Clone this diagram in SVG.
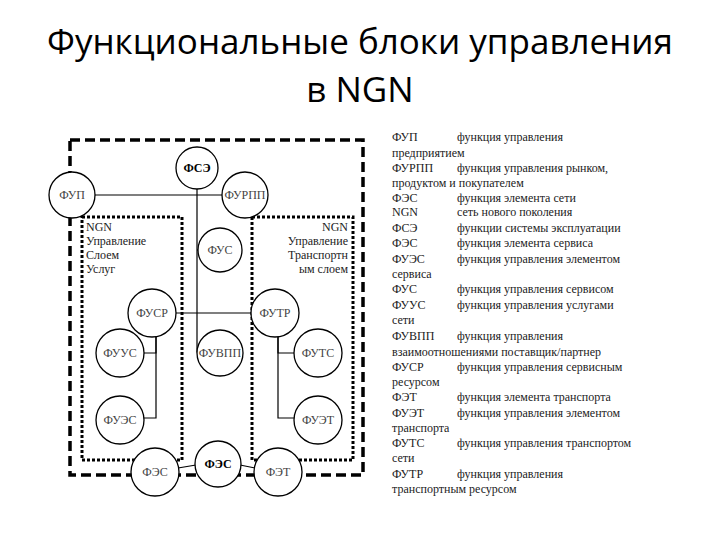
<svg xmlns="http://www.w3.org/2000/svg" width="720" height="540" viewBox="0 0 720 540">
<style>
.t{font-family:"Open Sans","Liberation Sans",sans-serif;font-size:35px;fill:#000;text-anchor:middle}
.n circle{fill:#fff;stroke:#000;stroke-width:1.3}
.n text{font-family:"Liberation Serif",serif;font-size:12px;text-anchor:middle;fill:#444}
.b text{font-weight:bold;fill:#000}
.l{font-family:"Liberation Serif",serif;font-size:12px;fill:#222}
.c line,.c polyline{stroke:#000;stroke-width:1.2;fill:none}
.lab{font-family:"Liberation Serif",serif;font-size:12px;fill:#222}
</style>
<rect width="720" height="540" fill="#fff"/>
<text class="t" x="360" y="54">Функциональные блоки управления</text>
<text class="t" x="360" y="102">в NGN</text>
<rect x="70" y="140" width="293" height="335" fill="none" stroke="#000" stroke-width="3.5" stroke-dasharray="10,5"/>
<rect x="82" y="217" width="100" height="243" fill="none" stroke="#000" stroke-width="3" stroke-dasharray="3,2"/>
<rect x="252" y="217" width="101" height="243" fill="none" stroke="#000" stroke-width="3" stroke-dasharray="3,2"/>
<text class="lab" x="86" y="231">NGN</text>
<text class="lab" x="86" y="245">Управление</text>
<text class="lab" x="86" y="259">Слоем</text>
<text class="lab" x="86" y="273">Услуг</text>
<text class="lab" x="348" y="231" text-anchor="end">NGN</text>
<text class="lab" x="348" y="245" text-anchor="end">Управление</text>
<text class="lab" x="348" y="259" text-anchor="end">Транспортн</text>
<text class="lab" x="348" y="273" text-anchor="end">ым слоем</text>
<g class="c" id="connectors">
<line x1="94" y1="195" x2="223" y2="195"/>
<polyline points="197,188 197,352 203,352"/>
<line x1="197" y1="250" x2="200" y2="250"/>
<line x1="176" y1="313" x2="252" y2="313"/>
<polyline points="143,353 156,353 156,336"/>
<polyline points="156,336 156,418 143,418"/>
<polyline points="295,353 278,353 278,336"/>
<polyline points="278,336 278,418 295,418"/>
<line x1="178" y1="468" x2="196" y2="465"/>
<line x1="240" y1="465" x2="255" y2="468"/>
</g>
<g id="n-fse" class="n b"><circle cx="197" cy="168" r="21"/><text x="197" y="172">ФСЭ</text></g>
<g id="n-fup" class="n"><circle cx="72" cy="195" r="23"/><text x="72" y="199">ФУП</text></g>
<g id="n-furpp" class="n"><circle cx="245" cy="195" r="23"/><text x="245" y="199">ФУРПП</text></g>
<g id="n-fus" class="n"><circle cx="220" cy="250" r="22"/><text x="220" y="254">ФУС</text></g>
<g id="n-fusr" class="n"><circle cx="152" cy="313" r="24"/><text x="152" y="317">ФУСР</text></g>
<g id="n-futr" class="n"><circle cx="275" cy="313" r="24"/><text x="275" y="317">ФУТР</text></g>
<g id="n-fuus" class="n"><circle cx="120" cy="353" r="24"/><text x="120" y="357">ФУУС</text></g>
<g id="n-fuvpp" class="n"><circle cx="220" cy="353" r="23"/><text x="220" y="357">ФУВПП</text></g>
<g id="n-futs" class="n"><circle cx="318" cy="353" r="24"/><text x="318" y="357">ФУТС</text></g>
<g id="n-fues" class="n"><circle cx="120" cy="420" r="24"/><text x="120" y="424">ФУЭС</text></g>
<g id="n-fuet" class="n"><circle cx="318" cy="420" r="24"/><text x="318" y="424">ФУЭТ</text></g>
<g id="n-fes" class="n"><circle cx="155" cy="472" r="24"/><text x="155" y="476">ФЭС</text></g>
<g id="n-fes2" class="n b"><circle cx="218" cy="464" r="23"/><text x="218" y="468">ФЭС</text></g>
<g id="n-fet" class="n"><circle cx="278" cy="472" r="24"/><text x="278" y="476">ФЭТ</text></g>
<g id="legend" class="l">
<text x="392" y="141">ФУП</text><text x="457" y="141">функция управления</text>
<text x="392" y="157">предприятием</text>
<text x="392" y="172">ФУРПП</text><text x="457" y="172">функция управления рынком,</text>
<text x="392" y="187">продуктом и покупателем</text>
<text x="392" y="202">ФЭС</text><text x="457" y="202">функция элемента сети</text>
<text x="392" y="216">NGN</text><text x="457" y="216">сеть нового поколения</text>
<text x="392" y="232">ФСЭ</text><text x="457" y="232">функции системы эксплуатации</text>
<text x="392" y="247">ФЭС</text><text x="457" y="247">функция элемента сервиса</text>
<text x="392" y="263">ФУЭС</text><text x="457" y="263">функция управления элементом</text>
<text x="392" y="278">сервиса</text>
<text x="392" y="293">ФУС</text><text x="457" y="293">функция управления сервисом</text>
<text x="392" y="309">ФУУС</text><text x="457" y="309">функция управления услугами</text>
<text x="392" y="324">сети</text>
<text x="392" y="340">ФУВПП</text><text x="457" y="340">функция управления</text>
<text x="392" y="356">взаимоотношениями поставщик/партнер</text>
<text x="392" y="371">ФУСР</text><text x="457" y="371">функция управления сервисным</text>
<text x="392" y="386">ресурсом</text>
<text x="392" y="401">ФЭТ</text><text x="457" y="401">функция элемента транспорта</text>
<text x="392" y="417">ФУЭТ</text><text x="457" y="417">функция управления элементом</text>
<text x="392" y="432">транспорта</text>
<text x="392" y="447">ФУТС</text><text x="457" y="447">функция управления транспортом</text>
<text x="392" y="462">сети</text>
<text x="392" y="478">ФУТР</text><text x="457" y="478">функция управления</text>
<text x="392" y="493">транспортным ресурсом</text>
</g>
</svg>
